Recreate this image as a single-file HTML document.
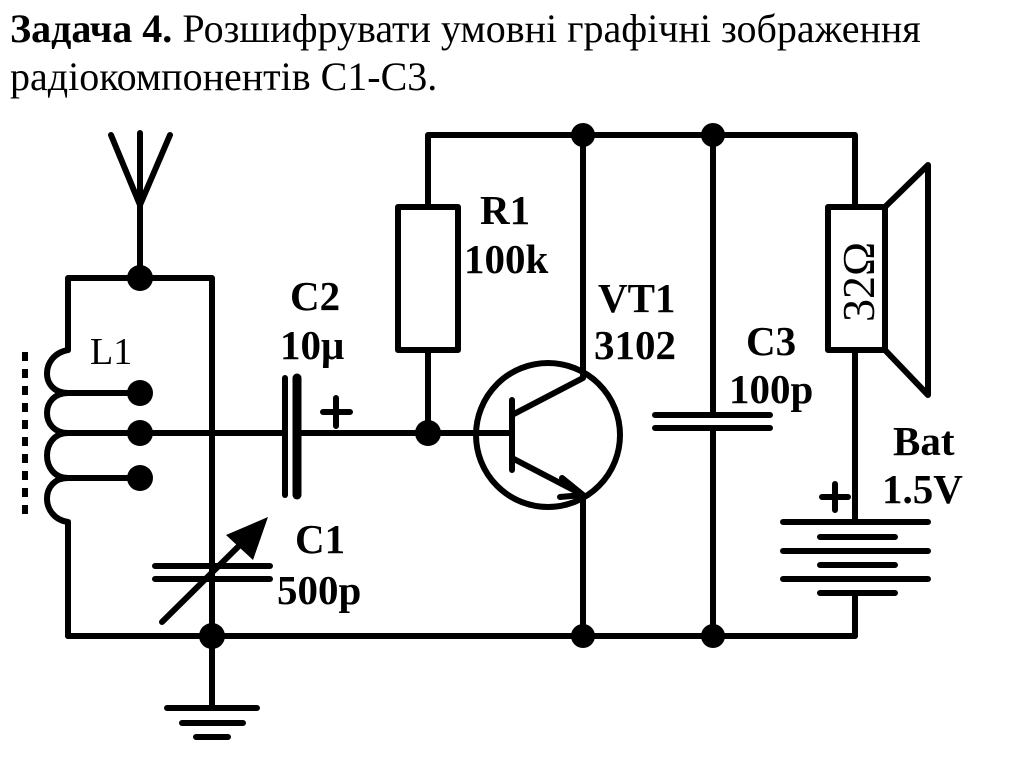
<!DOCTYPE html>
<html><head><meta charset="utf-8"><style>
body{margin:0;background:#fff;width:1024px;height:767px;overflow:hidden}
.t{position:absolute;left:10px;font-family:"Liberation Serif",serif;font-size:40px;line-height:1;color:#000;white-space:nowrap}
</style></head><body>
<div class="t" style="top:9px"><b>Задача 4.</b> Розшифрувати умовні графічні зображення</div>
<div class="t" style="top:57px">радіокомпонентів С1-С3.</div>
<svg width="1024" height="767" style="position:absolute;left:0;top:0" xmlns="http://www.w3.org/2000/svg">
<g stroke="#000" stroke-width="6" fill="none" stroke-linecap="round" stroke-linejoin="round">
<path d="M111,135 L140,205 L170,135 M140,133 V278"/>
<path d="M68,350 V278 H212 V636 M68,636 H855"/>
<path d="M68,350 C40,355 40,393 68,393 C40,393 40,433 68,433 C40,433 40,478 68,478 C40,478 40,518 68,522 V636"/>
<path d="M68,393 H140 M68,433 H285 M68,478 H140"/>
<path d="M25,352 V520" stroke-dasharray="9,8" stroke-linecap="butt"/>
<path d="M285,378 V495"/>
<path d="M297,378 V495" stroke-width="9"/>
<path d="M297,433 H512 M323,412 H350 M336,398 V426"/>
<path d="M155,566 H270 M155,579 H270 M162,622 L248,537"/>
<path d="M212,636 V708 M167,708 H257 M182,723 H243 M196,737 H228"/>
<path d="M428,207 V135 H855 V207 M428,350 V433"/>
<rect x="398" y="207" width="60" height="143"/>
<circle cx="548" cy="435" r="72"/>
<path d="M512,400 V470 M512,415 L583,378 V135 M512,458 L583,495 V636 M562,478 L583,495 L560,497"/>
<path d="M713,135 V415 M713,428 V636 M655,415 H770 M655,428 H770"/>
<rect x="828" y="207" width="57" height="143"/>
<path d="M885,207 L928,165 V395 L885,350 M855,350 V522 M855,593 V636"/>
<path d="M783,522 H928 M820,537 H895 M783,551 H928 M820,565 H895 M783,579 H928 M820,593 H895 M822,497 H848 M835,484 V510"/>
</g>
<polygon points="268,517 253,560 226,535" fill="#000"/>
<g fill="#000"><circle cx="140" cy="278" r="13"/><circle cx="140" cy="393" r="13"/><circle cx="140" cy="433" r="13"/><circle cx="140" cy="478" r="13"/><circle cx="428" cy="433" r="13"/><circle cx="583" cy="135" r="12"/><circle cx="713" cy="135" r="12"/><circle cx="583" cy="636" r="12"/><circle cx="713" cy="636" r="12"/><circle cx="212" cy="636" r="13"/></g>
<g font-family="Liberation Serif,serif" font-size="41" font-weight="bold" fill="#000">
<text x="480" y="224">R1</text><text x="464" y="273">100k</text>
<text x="598" y="312">VT1</text><text x="594" y="359">3102</text>
<text x="290" y="310">C2</text><text x="280" y="359">10μ</text>
<text x="295" y="553">C1</text><text x="277" y="604">500p</text>
<text x="746" y="355">C3</text><text x="729" y="403">100p</text>
<text x="893" y="455">Bat</text><text x="882" y="503">1.5V</text>
</g>
<text x="90" y="364" font-family="Liberation Serif,serif" font-size="38" fill="#000">L1</text>
<text transform="translate(874,322) rotate(-90)" font-family="Liberation Serif,serif" font-size="46" fill="#000">32Ω</text>
</svg>
</body></html>
